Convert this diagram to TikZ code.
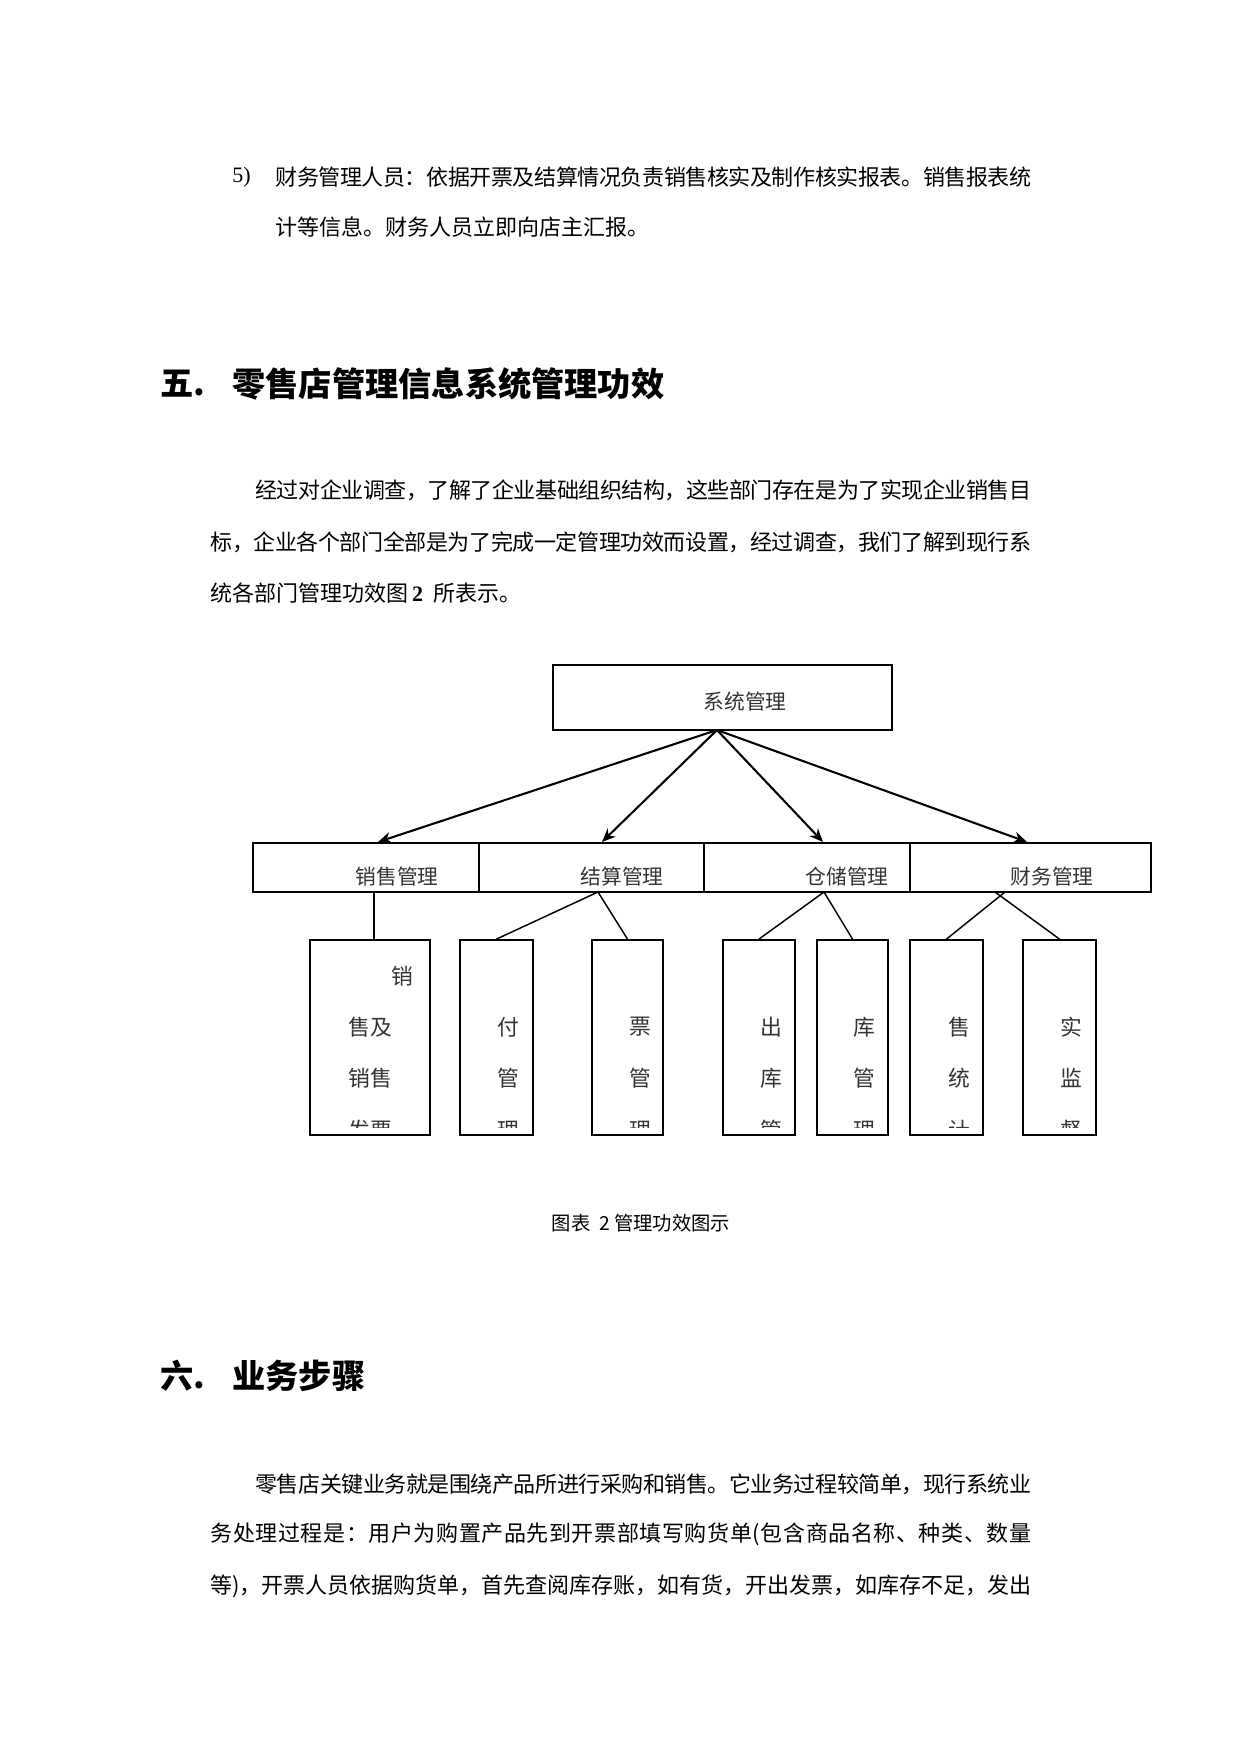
\documentclass[tikz,border=0pt]{standalone}
\usepackage{fontspec}
\setmainfont{Liberation Serif}
\newfontfamily\cjk{Noto Sans CJK SC}
\usetikzlibrary{arrows.meta,calc}
\newlength\pxu
\setlength\pxu{0.4815pt}
\def\spreadA#1{#1\spreadB}
\def\spreadB#1{\ifx#1\relax\else\hskip0pt plus1fil minus1pt #1\expandafter\spreadB\fi}
\newcommand\fillline[2]{\hbox to #1\pxu{\spreadA#2\relax}}

\begin{document}
\begin{tikzpicture}[x=0.4815pt,y=-0.4815pt,
  body/.style={anchor=west,inner sep=0,font=\cjk\fontsize{10.6}{12}\selectfont},
  head/.style={anchor=west,inner sep=0,font=\cjk\bfseries\fontsize{16}{18}\selectfont},
  lab/.style={inner sep=0,text=black!80,font=\cjk\fontsize{10}{12}\selectfont},
  leaftxt/.style={inner sep=0,text=black!80,font=\cjk\fontsize{10.5}{12}\selectfont},
  box/.style={draw,line width=1pt,inner sep=0},
  leaf/.style={draw,line width=0.9pt,inner sep=0,minimum height=195\pxu},
  arr/.style={line width=1pt,-{Stealth[length=6.5pt,width=5.5pt]}},
  link/.style={line width=0.7pt}]
\useasboundingbox (0,0) rectangle (1241,1754);

\node[body,font=\rmfamily\fontsize{10.6}{12}\selectfont] (item) at (232,177) {5)};
\node[body] (l1) at (275,177) {\fillline{756}{财务管理人员：依据开票及结算情况负责销售核实及制作核实报表。销售报表统}};
\node[body] (l2) at (275,227) {计等信息。财务人员立即向店主汇报。};

\node[head] (h5n) at (160,384) {五.};
\node[head] (h5) at (232,384) {零售店管理信息系统管理功效};
\node[body] (p1) at (255,490) {\fillline{776}{经过对企业调查，了解了企业基础组织结构，这些部门存在是为了实现企业销售目}};
\node[body] (p2) at (210,542) {\fillline{821}{标，企业各个部门全部是为了完成一定管理功效而设置，经过调查，我们了解到现行系}};
\node[body] (p3) at (210,593) {统各部门管理功效图\,{\rmfamily\bfseries 2}\ \ 所表示。};

\node[box,minimum width=339\pxu,minimum height=65\pxu] (sys) at (722.5,697.5) {};
\node[lab] (systxt) at (745,702) {系统管理};

\foreach \n/\cx/\w/\t/\tx in {sales/366/226/销售管理/397,settle/591.5/225/结算管理/622,
  store/807/206/仓储管理/847,finance/1030.5/241/财务管理/1052}{
  \node[box,minimum width=\w\pxu,minimum height=49\pxu] (\n) at (\cx,867.5) {};
  \node[lab] (\n txt) at (\tx,877) {\t};
}

\coordinate (hub) at (717,730);
\foreach \n/\dx in {sales/12,settle/10.5,store/16,finance/-3.5}
  \draw[arr] (hub) -- ($(\n.north)+(\dx,0)$);

\node[leaf,minimum width=120\pxu] (c1) at (370,1037.5) {};
\begin{scope}
  \clip (310,940) rectangle (430,1127);
  \node[leaftxt] (c1a) at (402,976) {销};
  \node[leaftxt] (c1b) at (370,1027) {售及};
  \node[leaftxt] (c1c) at (370,1078) {销售};
  \node[leaftxt] (c1d) at (370,1130) {发票};
\end{scope}

\foreach \n/\cx/\w/\tx/\a/\b/\c in {c2/496.5/73/508/付/管/理,c3/627.5/71/640/票/管/理,
  c4/759/72/771/出/库/管,c5/852.5/71/864/库/管/理,c6/946.5/73/959/售/统/计,c7/1059.5/73/1071/实/监/督}{
  \node[leaf,minimum width=\w\pxu] (\n) at (\cx,1037.5) {};
  \begin{scope}
    \clip (\cx-\w/2,940) rectangle (\cx+\w/2,1127);
    \node[leaftxt] (\n a) at (\tx,1027) {\a};
    \node[leaftxt] (\n b) at (\tx,1078) {\b};
    \node[leaftxt] (\n c) at (\tx,1130) {\c};
  \end{scope}
}

\coordinate (jsales) at (374,892);
\coordinate (jsettle) at (598,892);
\coordinate (jstore) at (824,892);
\coordinate (jfinl) at (1005,892);
\coordinate (jfinr) at (995,892);
\draw[link] (jsales) -- (jsales |- c1.north);
\draw[link] (jsettle) -- (c2.north);
\draw[link] (jsettle) -- (c3.north);
\draw[link] (jstore) -- (c4.north);
\draw[link] (jstore) -- (c5.north);
\draw[link] (jfinl) -- (c6.north);
\draw[link] (jfinr) -- (c7.north);

\node[inner sep=0,font=\cjk\fontsize{9.3}{11}\selectfont] (cap) at (641,1223) {图表\ \ 2 管理功效图示};

\node[head] (h6n) at (160,1376) {六.};
\node[head] (h6) at (232,1376) {业务步骤};
\node[body] (q1) at (255,1484) {\fillline{776}{零售店关键业务就是围绕产品所进行采购和销售。它业务过程较简单，现行系统业}};
\node[body] (q2) at (210,1534) {\fillline{821}{务处理过程是：用户为购置产品先到开票部填写购货单(包含商品名称、种类、数量}};
\node[body] (q3) at (210,1586) {\fillline{821}{等)，开票人员依据购货单，首先查阅库存账，如有货，开出发票，如库存不足，发出}};
\end{tikzpicture}
\end{document}
